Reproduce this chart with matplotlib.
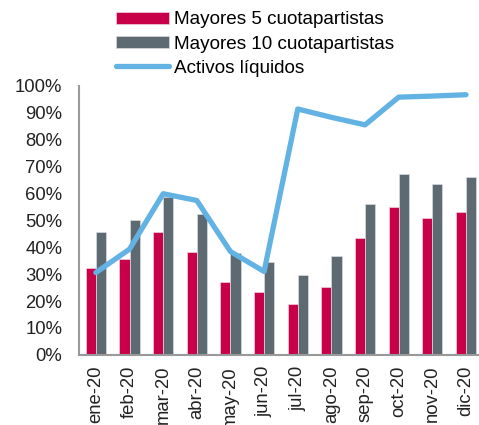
import numpy as np
import matplotlib
matplotlib.use("Agg")
import matplotlib.pyplot as plt
from matplotlib.ticker import PercentFormatter

plt.rcParams["font.family"] = ["Liberation Sans", "DejaVu Sans"]

months = ["ene-20", "feb-20", "mar-20", "abr-20", "may-20", "jun-20",
          "jul-20", "ago-20", "sep-20", "oct-20", "nov-20", "dic-20"]
top5 = [32.2, 35.6, 45.6, 38.3, 27.0, 23.3, 19.0, 25.3, 43.5, 55.0, 50.9, 53.2]
top10 = [45.6, 50.2, 58.6, 52.2, 37.8, 34.6, 29.7, 36.8, 56.1, 67.4, 63.6, 66.2]
liquid = [30.6, 39.3, 59.9, 57.4, 38.4, 31.0, 91.4, 88.3, 85.5, 95.8, 96.2, 96.7]

RED = "#C8004A"
GRAY = "#5E6A72"
BLUE = "#63B2E4"

fig = plt.figure(figsize=(4.79, 4.25), dpi=100)
ax = fig.add_axes([0.165, 0.165, 0.843, 0.633])

x = np.arange(len(months))
w = 0.3
b1 = ax.bar(x - w / 2, top5, width=w, color=RED, edgecolor="#F2D0DC", linewidth=0.5,
            label="Mayores 5 cuotapartistas")
b2 = ax.bar(x + w / 2, top10, width=w, color=GRAY, edgecolor="#D8DCDF", linewidth=0.5,
            label="Mayores 10 cuotapartistas")
l1, = ax.plot(x, liquid, color=BLUE, linewidth=3.8, solid_capstyle="round",
              label="Activos líquidos")

ax.set_xlim(-0.5, len(months) - 0.5)
ax.set_ylim(0, 100)
ax.set_yticks(np.arange(0, 101, 10))
ax.yaxis.set_major_formatter(PercentFormatter(decimals=0))
ax.set_xticks(x)
ax.set_xticklabels(months, rotation=90)
ax.tick_params(axis="both", length=0, labelsize=13.3, colors="#222222")
ax.tick_params(axis="y", pad=12)
ax.tick_params(axis="x", pad=8)

for s in ["top", "right"]:
    ax.spines[s].set_visible(False)
for s in ["left", "bottom"]:
    ax.spines[s].set_color("#999999")
    ax.spines[s].set_linewidth(1.5)

fig.legend(handles=[b1, b2, l1], loc="upper left", bbox_to_anchor=(0.218, 1.0),
           frameon=False, fontsize=13.6, handlelength=2.8, handleheight=0.6,
           labelspacing=0.38, handletextpad=0.3, borderaxespad=0.2)

fig.savefig("out.png", dpi=100)
